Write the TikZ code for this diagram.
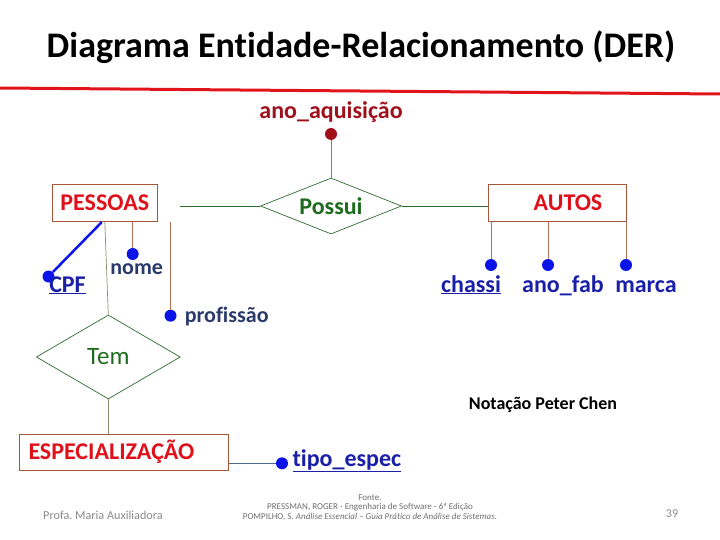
\documentclass[tikz,border=0pt]{standalone}
\usepackage{fontspec}
\setmainfont{Carlito}[Ligatures=CommonOff]
\usetikzlibrary{shapes.geometric}
\frenchspacing

\definecolor{rulered}{HTML}{E0141A}
\definecolor{entred}{HTML}{E0101A}
\definecolor{entframe}{HTML}{A8553A}
\definecolor{relgreen}{HTML}{1E6B1E}
\definecolor{reledge}{HTML}{2E6B2E}
\definecolor{dotblue}{HTML}{0A14E8}
\definecolor{attblue}{HTML}{1A1FA8}
\definecolor{attnavy}{HTML}{2A3A6A}
\definecolor{relattred}{HTML}{A0101C}
\definecolor{temline}{HTML}{8C8C6C}
\definecolor{slateline}{HTML}{4A6A8A}
\definecolor{footgray}{HTML}{8A8A8A}

\begin{document}
\begin{tikzpicture}[x=1pt, y=-1pt,
  entity/.style={draw=entframe, line width=0.8pt, inner sep=0pt,
    font=\fontsize{24}{28}\selectfont\bfseries, text=entred},
  relation/.style={diamond, draw=reledge, line width=0.7pt, inner sep=0pt,
    text=relgreen, font=\fontsize{25}{29}\selectfont},
  attdot/.style={circle, fill=dotblue, inner sep=0pt, minimum size=12pt},
  attname/.style={font=\fontsize{24}{28}\selectfont\bfseries, text=attblue,
    anchor=base},
  attline/.style={draw=entframe!85, line width=0.7pt},
  relline/.style={draw=reledge, line width=0.7pt}]
  \useasboundingbox (0,0) rectangle (720,540);

  % Title
  \node[font=\fontsize{36}{42}\selectfont\bfseries] (title) at (361,47)
    {Diagrama Entidade-Relacionamento (DER)};
  \draw[rulered, line width=3pt] (0,88) -- (720,94);

  % Entity PESSOAS
  \node[entity, minimum width=105pt, minimum height=37.4pt] (pessoas)
    at (104.8,203) {PESSOAS};
  \node[attdot] (cpfdot) at (48.5,276.5) {};
  \node[attname] (cpf) at (67.5,292) {\underline{CPF}};
  \node[attdot] (nomedot) at (132.7,254) {};
  \node[attname, font=\fontsize{22}{26}\selectfont\bfseries, text=attnavy]
    (nome) at (136.7,274.3) {nome};
  \node[attdot] (profdot) at (170.5,315.7) {};
  \node[attname, font=\fontsize{22}{26}\selectfont\bfseries, text=attnavy]
    (prof) at (226.7,322.7) {profissão};
  \draw[dotblue, line width=2.5pt] ([xshift=-3pt]pessoas.south) -- (cpfdot);
  \draw[attline] (nomedot) -- (nomedot |- pessoas.south);
  \draw[attline] (profdot) -- (profdot |- pessoas.south);

  % Entity AUTOS
  \node[entity, minimum width=138.4pt, minimum height=37.4pt] (autos)
    at (557.5,203) {};
  \node[font=\fontsize{24}{28}\selectfont\bfseries, text=entred] (autoslabel)
    at (568,203) {AUTOS};
  \node[attdot] (chassidot) at (491,265) {};
  \node[attdot] (anofabdot) at (548,265) {};
  \node[attdot] (marcadot) at (626,265) {};
  \node[attname] (chassi) at (471,292) {\underline{chassi}};
  \node[attname] (anofab) at (563,292) {ano\_fab};
  \node[attname] (marca) at (646,292) {marca};
  \draw[attline] (chassidot) -- (chassidot |- autos.south);
  \draw[attline] (anofabdot) -- (anofabdot |- autos.south);
  \draw[attline] (marcadot) -- (marcadot |- autos.south);

  % Relationship Possui
  \node[attname, text=relattred] (anoaq) at (331,118.5) {ano\_aquisição};
  \node[attdot, fill=relattred] (anoaqdot) at (331,134) {};
  \node[relation, aspect=2.5, minimum width=141pt, minimum height=56pt,
    font=\fontsize{24}{28}\selectfont\bfseries] (possui) at (331,206) {Possui};
  \coordinate (possuiend) at (180,206);
  \draw[attline] (anoaqdot) -- (possui.north);
  \draw[relline] (possuiend) -- (possui.west);
  \draw[relline] (possui.east) -- (possui.east -| autos.west);

  % Relationship Tem and ESPECIALIZACAO
  \node[relation, aspect=1.7, minimum width=144pt, minimum height=84pt] (tem)
    at (108.3,357) {Tem};
  \node[entity, minimum width=209.4pt, minimum height=35.7pt, text width=191pt,
    inner xsep=9pt, align=left] (espec) at (124,452.2) {ESPECIALIZAÇÃO};
  \draw[temline, line width=0.7pt] (pessoas.south) -- (tem.north);
  \draw[temline, line width=0.7pt] (tem.south) -- (tem.south |- espec.north);
  \node[attdot] (tipodot) at (282,463.3) {};
  \node[attname, anchor=base west] (tipo) at (289,466) {\underline{tipo\_espec}};
  \draw[slateline, line width=0.7pt] (espec.east |- tipodot) -- (tipodot);

  % Notes and footer
  \node[font=\fontsize{18}{21}\selectfont\bfseries] (notacao) at (543,405)
    {Notação Peter Chen};
  \node[font=\fontsize{12.2}{15}\selectfont, text=footgray] (profa) at (103,515)
    {Profa. Maria Auxiliadora};
  \node[font=\fontsize{9}{9.8}\selectfont, text=footgray!80!black, align=center]
    (fonte) at (370,507.5) {Fonte.\\PRESSMAN, ROGER - Engenharia de Software - 6ª Edição\\
    POMPILHO, S. \textit{Análise Essencial – Guia Prático de Análise de Sistemas.}};
  \node[font=\fontsize{12}{14}\selectfont, text=footgray] (pagenum) at (672,514) {39};
\end{tikzpicture}
\end{document}
